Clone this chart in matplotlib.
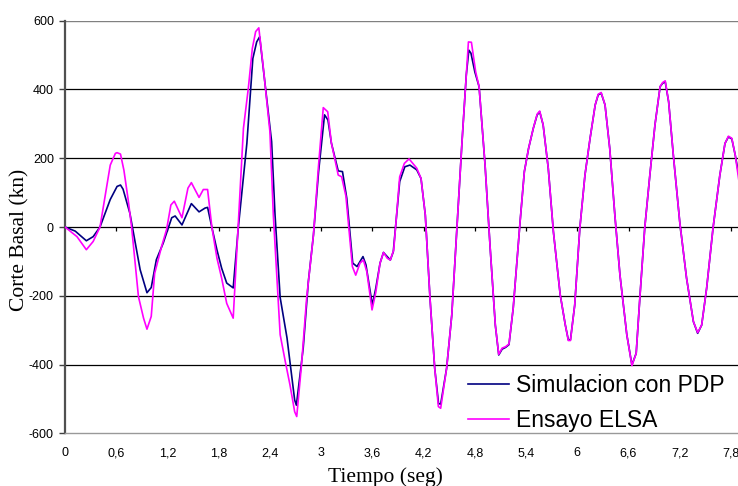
import matplotlib
matplotlib.use("Agg")
import matplotlib.pyplot as plt

# Datos: tiempo (seg) y corte basal (kn)
t_pdp = [0.0, 0.12, 0.25, 0.33, 0.41, 0.53, 0.61, 0.65, 0.68, 0.76, 0.88, 0.96,
         1.01, 1.07, 1.15, 1.25, 1.29, 1.37, 1.48, 1.57, 1.64, 1.67, 1.72, 1.78,
         1.835, 1.894, 1.97, 2.03, 2.13, 2.2, 2.245, 2.28, 2.34, 2.42, 2.46, 2.52,
         2.6, 2.69, 2.71, 2.79, 2.85, 2.91, 2.97, 3.04, 3.08, 3.12, 3.2, 3.25,
         3.3, 3.37, 3.42, 3.49, 3.525, 3.6, 3.64, 3.69, 3.73, 3.81, 3.845, 3.92,
         3.98, 4.04, 4.12, 4.17, 4.22, 4.275, 4.33, 4.375, 4.40, 4.47, 4.53, 4.59,
         4.65, 4.70, 4.73, 4.755, 4.80, 4.85, 4.92, 4.98, 5.04, 5.08, 5.12, 5.16,
         5.2, 5.25, 5.33, 5.38, 5.43, 5.485, 5.53, 5.56, 5.6, 5.66, 5.72, 5.80,
         5.86, 5.895, 5.92, 5.97, 6.03, 6.09, 6.15, 6.21, 6.245, 6.28, 6.325, 6.38,
         6.44, 6.5, 6.58, 6.64, 6.69, 6.735, 6.79, 6.85, 6.91, 6.97, 7.0, 7.03,
         7.07, 7.125, 7.2, 7.28, 7.36, 7.41, 7.457, 7.515, 7.59, 7.67, 7.73, 7.77,
         7.81, 7.85, 7.9]
v_pdp = [0, -12, -40, -28, 0, 80, 118, 122, 110, 40, -124, -191,
         -176, -95, -47, 27, 32, 6, 68, 44, 55, 57, -1, -67,
         -120, -163, -177, -1, 243, 490, 538, 553, 422, 248, 35, -205,
         -322, -503, -518, -352, -159, -23, 161, 326, 311, 244, 163, 161,
         84, -105, -115, -86, -110, -227, -178, -105, -74, -96, -72, 132,
         175, 180, 166, 141, 35, -207, -410, -513, -515, -410, -256, -3,
         248, 442, 514, 505, 451, 408, 180, -62, -285, -372, -355, -350,
         -342, -235, 15, 161, 229, 287, 326, 335, 297, 171, -13, -197,
         -285, -328, -328, -227, -3, 151, 258, 355, 384, 389, 355, 229,
         35, -140, -313, -401, -367, -198, -3, 151, 297, 408, 418, 422,
         364, 209, 15, -149, -275, -309, -285, -178, -3, 151, 243, 262,
         256, 209, 140]

t_elsa = [0.0, 0.14, 0.25, 0.33, 0.41, 0.53, 0.59, 0.61, 0.65, 0.69, 0.74, 0.78,
          0.86, 0.92, 0.96, 1.01, 1.05, 1.13, 1.19, 1.24, 1.28, 1.37, 1.44, 1.48,
          1.57, 1.62, 1.67, 1.72, 1.78, 1.835, 1.894, 1.97, 2.03, 2.09, 2.147, 2.194,
          2.233, 2.27, 2.32, 2.4, 2.44, 2.52, 2.58, 2.635, 2.69, 2.714, 2.77, 2.83,
          2.91, 2.967, 3.025, 3.077, 3.12, 3.2, 3.24, 3.29, 3.366, 3.405, 3.455, 3.495,
          3.535, 3.596, 3.64, 3.69, 3.73, 3.775, 3.81, 3.85, 3.92, 3.975, 4.03, 4.12,
          4.17, 4.22, 4.275, 4.33, 4.373, 4.40, 4.47, 4.53, 4.59, 4.65, 4.70, 4.725,
          4.76, 4.81, 4.85, 4.92, 4.98, 5.04, 5.08, 5.12, 5.16, 5.2, 5.25, 5.33,
          5.38, 5.43, 5.485, 5.53, 5.56, 5.6, 5.66, 5.72, 5.80, 5.86, 5.895, 5.92,
          5.97, 6.03, 6.09, 6.15, 6.21, 6.245, 6.28, 6.325, 6.38, 6.44, 6.5, 6.58,
          6.64, 6.69, 6.735, 6.79, 6.85, 6.91, 6.97, 7.0, 7.03, 7.07, 7.125, 7.2,
          7.28, 7.36, 7.41, 7.457, 7.515, 7.59, 7.67, 7.73, 7.77, 7.81, 7.85, 7.9]
v_elsa = [0, -28, -66, -42, 0, 180, 214, 216, 212, 165, 79, 0,
          -202, -265, -297, -260, -135, -58, -7, 64, 75, 27, 113, 129,
          86, 109, 109, 0, -91, -149, -222, -265, 10, 287, 403, 519,
          568, 579, 470, 277, 35, -313, -391, -459, -537, -551, -401, -207,
          -23, 171, 347, 335, 244, 151, 146, 90, -115, -140, -105, -96,
          -130, -241, -190, -105, -74, -91, -96, -67, 146, 185, 198, 171,
          141, 35, -207, -410, -522, -527, -410, -256, -3, 248, 442, 538,
          537, 451, 408, 180, -62, -285, -370, -352, -348, -340, -235, 15,
          161, 229, 287, 328, 337, 297, 171, -13, -197, -285, -330, -330,
          -227, -3, 151, 258, 355, 386, 391, 355, 229, 35, -140, -313,
          -403, -367, -198, -3, 151, 297, 408, 420, 425, 364, 209, 15,
          -149, -275, -307, -285, -178, -3, 151, 243, 264, 258, 209, 122]

x_ticks = [0, 0.6, 1.2, 1.8, 2.4, 3.0, 3.6, 4.2, 4.8, 5.4, 6.0, 6.6, 7.2, 7.8]
x_labels = ["0", "0,6", "1,2", "1,8", "2,4", "3", "3,6", "4,2", "4,8",
            "5,4", "6", "6,6", "7,2", "7,8"]
y_ticks = [-600, -400, -200, 0, 200, 400, 600]

sans = ["Liberation Sans", "DejaVu Sans"]
serif = ["Liberation Serif", "DejaVu Serif"]

fig = plt.figure(figsize=(7.38, 4.86), dpi=100)
ax = fig.add_axes([65 / 738, 1 - 433.4 / 486, 673 / 738, 412.8 / 486])

ax.set_xlim(0, 673 / 85.38)
ax.set_ylim(-600, 600)

# lineas horizontales de la grilla
for yv in y_ticks[1:-1]:
    ax.axhline(yv, color="black", lw=0.9, zorder=1)
ax.axhline(600, color="#808080", lw=1.0, zorder=1)

# marcas del eje x sobre la linea del cero
ax.vlines(x_ticks[1:], -13, 0, color="black", lw=0.9, zorder=1)

ax.plot(t_pdp, v_pdp, color="#000080", lw=1.2, label="Simulacion con PDP", zorder=3)
ax.plot(t_elsa, v_elsa, color="#FF00FF", lw=1.2, label="Ensayo ELSA", zorder=4)

ax.set_xticks(x_ticks)
ax.set_xticklabels(x_labels, family=sans, fontsize=9)
ax.set_yticks(y_ticks)
ax.set_yticklabels([str(v) for v in y_ticks], family=sans, fontsize=9)
ax.tick_params(axis="x", length=0, pad=10)
ax.tick_params(axis="y", length=4, width=1, direction="out", pad=4, color="#404040")

for s in ["top", "right"]:
    ax.spines[s].set_visible(False)
ax.spines["left"].set_color("#505050")
ax.spines["left"].set_linewidth(1.6)
ax.spines["bottom"].set_color("#999999")
ax.spines["bottom"].set_linewidth(1.0)

fig.text(385 / 738, 1 - 477 / 486, "Tiempo (seg)", ha="center", va="center",
         family=serif, fontsize=15.5)
fig.text(20 / 738, 1 - 240 / 486, "Corte Basal (kn)", ha="center", va="center",
         rotation=90, family=serif, fontsize=15.5)

ax.legend(loc="upper left", bbox_to_anchor=(468 / 738, 1 - 374 / 486),
          bbox_transform=fig.transFigure, frameon=False, borderpad=0,
          borderaxespad=0, handlelength=1.8, handletextpad=0.3,
          labelspacing=0.52, prop={"family": sans, "size": 16.5})

fig.savefig("out.png", dpi=100)
